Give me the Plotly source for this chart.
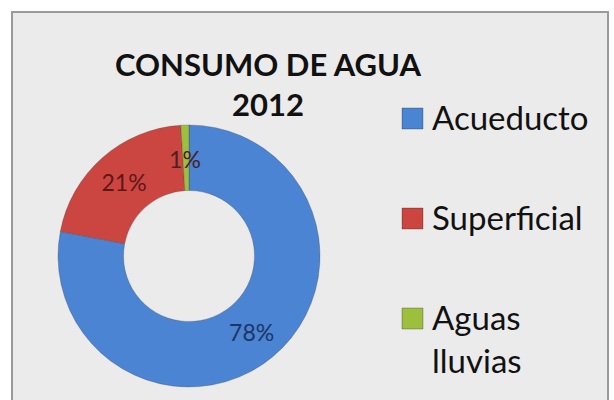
import plotly.graph_objects as go

labels = ["Acueducto", "Superficial", "Aguas lluvias"]
legend_text = ["Acueducto", "Superficial", "Aguas<br>lluvias"]
values = [78, 21, 1]
colors = ["#4a84d2", "#cc4641", "#9cbf3e"]
text_colors = ["#1d3566", "#5e1717", "#4a2020"]
text_templates = ["%{percent}", "%{percent}", "&nbsp;<br>&nbsp;<br>%{percent}"]
title_text = "CONSUMO DE AGUA<br>2012"

W, H = 614, 400
cx, cy, R = 189, 256, 131

fig = go.Figure()
fig.add_trace(go.Pie(
    labels=labels,
    values=values,
    hole=0.5,
    sort=False,
    direction="clockwise",
    rotation=0,
    marker=dict(colors=colors, line=dict(color="rgba(60,60,60,0.35)", width=0.8)),
    texttemplate=text_templates,
    textposition="inside",
    insidetextorientation="horizontal",
    textfont=dict(family="Lato, Open Sans, sans-serif", size=23, color=text_colors),
    domain=dict(x=[(cx - R) / W, (cx + R) / W], y=[(H - cy - R) / H, (H - cy + R) / H]),
    showlegend=False,
))

shapes = [dict(type="rect", xref="paper", yref="paper",
               x0=12 / W, x1=608 / W, y0=-0.05, y1=1 - 12 / H,
               fillcolor="#ebebeb", line=dict(color="#9a9a9a", width=2), layer="below")]
annotations = [dict(text="<b>" + title_text + "</b>", xref="paper", yref="paper",
                    x=268 / W, y=1 - 84 / H, showarrow=False, xanchor="center", yanchor="middle",
                    font=dict(family="Lato, Open Sans, sans-serif", size=31, color="#111111"))]

legend_y = [118, 218, 318]
for lab, col, ly in zip(legend_text, colors, legend_y):
    shapes.append(dict(type="rect", xref="paper", yref="paper",
                       x0=402 / W, x1=423 / W, y0=1 - (ly + 11) / H, y1=1 - (ly - 10) / H,
                       fillcolor=col, line=dict(color="rgba(0,0,0,0.25)", width=1)))
    annotations.append(dict(text=lab, xref="paper", yref="paper", x=430 / W, y=1 - (ly - 23) / H,
                            showarrow=False, xanchor="left", yanchor="top", align="left",
                            font=dict(family="Lato, Open Sans, sans-serif", size=33, color="#111111")))

fig.update_layout(
    width=W, height=H,
    margin=dict(l=0, r=0, t=0, b=0),
    paper_bgcolor="white",
    plot_bgcolor="white",
    shapes=shapes,
    annotations=annotations,
    uniformtext=dict(minsize=23, mode="show"),
)

fig.write_html("out.html", config={"displayModeBar": False},
               post_script="document.body.style.margin='0';")
